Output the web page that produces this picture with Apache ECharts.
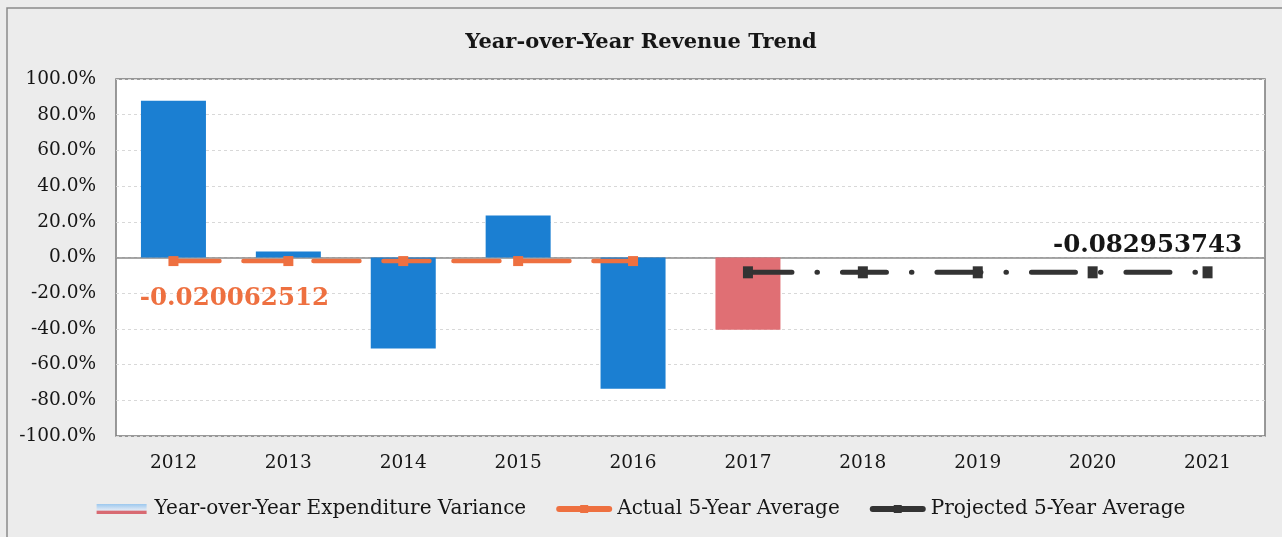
<!DOCTYPE html>
<html>
<head>
<meta charset="utf-8">
<script src="https://cdn.jsdelivr.net/npm/echarts@6/dist/echarts.min.js"></script>
<style>
  html, body { margin: 0; padding: 0; background: #ececec; }
  #chart { width: 1282px; height: 537px; }
</style>
</head>
<body>
<div id="chart"></div>
<script>
// Yearly categories and the three series drawn on them
const years = ['2012', '2013', '2014', '2015', '2016', '2017', '2018', '2019', '2020', '2021'];
const expenditureVariance = [0.878, 0.033, -0.51, 0.235, -0.735, -0.405, null, null, null, null];
const actualAverage = [-0.020062512, -0.020062512, -0.020062512, -0.020062512, -0.020062512, null, null, null, null, null];
const projectedAverage = [null, null, null, null, null, -0.082953743, -0.082953743, -0.082953743, -0.082953743, -0.082953743];
const yTicks = { min: -1, max: 1, step: 0.2 };
const firstProjectedYear = '2017';

const FONT = 'DejaVu Serif';
const BLUE = '#1b7fd2';
const RED = '#e06f74';
const ORANGE = '#ee7040';
const DARK = '#333333';
const TEXT = '#161616';

const barData = expenditureVariance.map((v, i) => ({
  value: v,
  itemStyle: { color: years[i] >= firstProjectedYear ? RED : BLUE }
}));

const chart = echarts.init(document.getElementById('chart'), null, { renderer: 'canvas' });

chart.setOption({
  backgroundColor: '#ececec',
  animation: false,
  textStyle: { fontFamily: FONT },
  title: {
    text: 'Year-over-Year Revenue Trend',
    left: 'center',
    top: 27,
    textStyle: { fontFamily: FONT, fontWeight: 'bold', fontSize: 21, color: TEXT }
  },
  graphic: [{
    type: 'rect',
    shape: { x: 7, y: 8, width: 1300, height: 560 },
    style: { fill: 'none', stroke: '#8a8a8a', lineWidth: 1.5 },
    silent: true,
    z: -1
  }],
  grid: {
    left: 116, right: 17, top: 79, bottom: 101,
    show: true,
    backgroundColor: '#ffffff',
    borderColor: '#7a7a7a',
    borderWidth: 1.5
  },
  legend: {
    bottom: 13,
    left: 'center',
    itemWidth: 50,
    itemHeight: 10,
    itemGap: 30,
    textStyle: { fontFamily: FONT, fontSize: 20, color: TEXT, padding: [0, 0, 0, 3] },
    lineStyle: { type: 'solid', width: 6 },
    data: [
      {
        name: 'Year-over-Year Expenditure Variance',
        icon: 'rect',
        itemStyle: {
          color: new echarts.graphic.LinearGradient(0, 0, 0, 1, [
            { offset: 0, color: '#9cc8ee' },
            { offset: 0.6, color: '#dfe9f5' },
            { offset: 0.75, color: '#d86a72' },
            { offset: 1, color: '#d86a72' }
          ])
        }
      },
      { name: 'Actual 5-Year Average' },
      { name: 'Projected 5-Year Average' }
    ]
  },
  xAxis: {
    type: 'category',
    data: years,
    axisLine: { show: false, onZero: false },
    axisTick: { show: false },
    axisLabel: { margin: 18, fontFamily: FONT, fontSize: 18.5, color: TEXT }
  },
  yAxis: {
    type: 'value',
    min: yTicks.min,
    max: yTicks.max,
    interval: yTicks.step,
    axisLine: { show: false },
    axisTick: { show: false },
    axisLabel: {
      margin: 20,
      fontFamily: FONT,
      fontSize: 18.5,
      color: TEXT,
      formatter: v => (v * 100).toFixed(1) + '%'
    },
    splitLine: { lineStyle: { color: '#d8d8d8', type: [3, 3], width: 1 } }
  },
  series: [
    {
      name: 'Year-over-Year Expenditure Variance',
      type: 'bar',
      data: barData,
      barWidth: 65,
      itemStyle: { color: BLUE },
      markLine: {
        silent: true,
        symbol: 'none',
        label: { show: false },
        lineStyle: { color: '#8a8a8a', type: 'solid', width: 1.5 },
        data: [{ yAxis: 0 }],
        z: 1
      },
      z: 2
    },
    {
      name: 'Actual 5-Year Average',
      type: 'line',
      data: actualAverage.map((v, i) => i === 0 ? {
        value: v,
        label: {
          show: true,
          position: 'bottom',
          distance: 5,
          offset: [61, 15],
          formatter: p => String(p.value),
          fontFamily: FONT,
          fontWeight: 'bold',
          fontSize: 24.5,
          color: ORANGE
        }
      } : v),
      symbol: 'rect',
      symbolSize: 10,
      itemStyle: { color: ORANGE },
      lineStyle: { color: ORANGE, width: 4.5, type: [46, 24], cap: 'round' },
      z: 5
    },
    {
      name: 'Projected 5-Year Average',
      type: 'line',
      data: projectedAverage.map((v, i) => i === years.length - 1 ? {
        value: v,
        label: {
          show: true,
          position: 'top',
          distance: 5,
          offset: [-60, -3],
          formatter: p => String(p.value),
          fontFamily: FONT,
          fontWeight: 'bold',
          fontSize: 24.5,
          color: TEXT
        }
      } : v),
      symbol: 'rect',
      symbolSize: [10, 12],
      itemStyle: { color: DARK },
      lineStyle: { color: DARK, width: 5, type: [44, 25, 0.5, 25], cap: 'round' },
      z: 5
    }
  ]
});
</script>
</body>
</html>
